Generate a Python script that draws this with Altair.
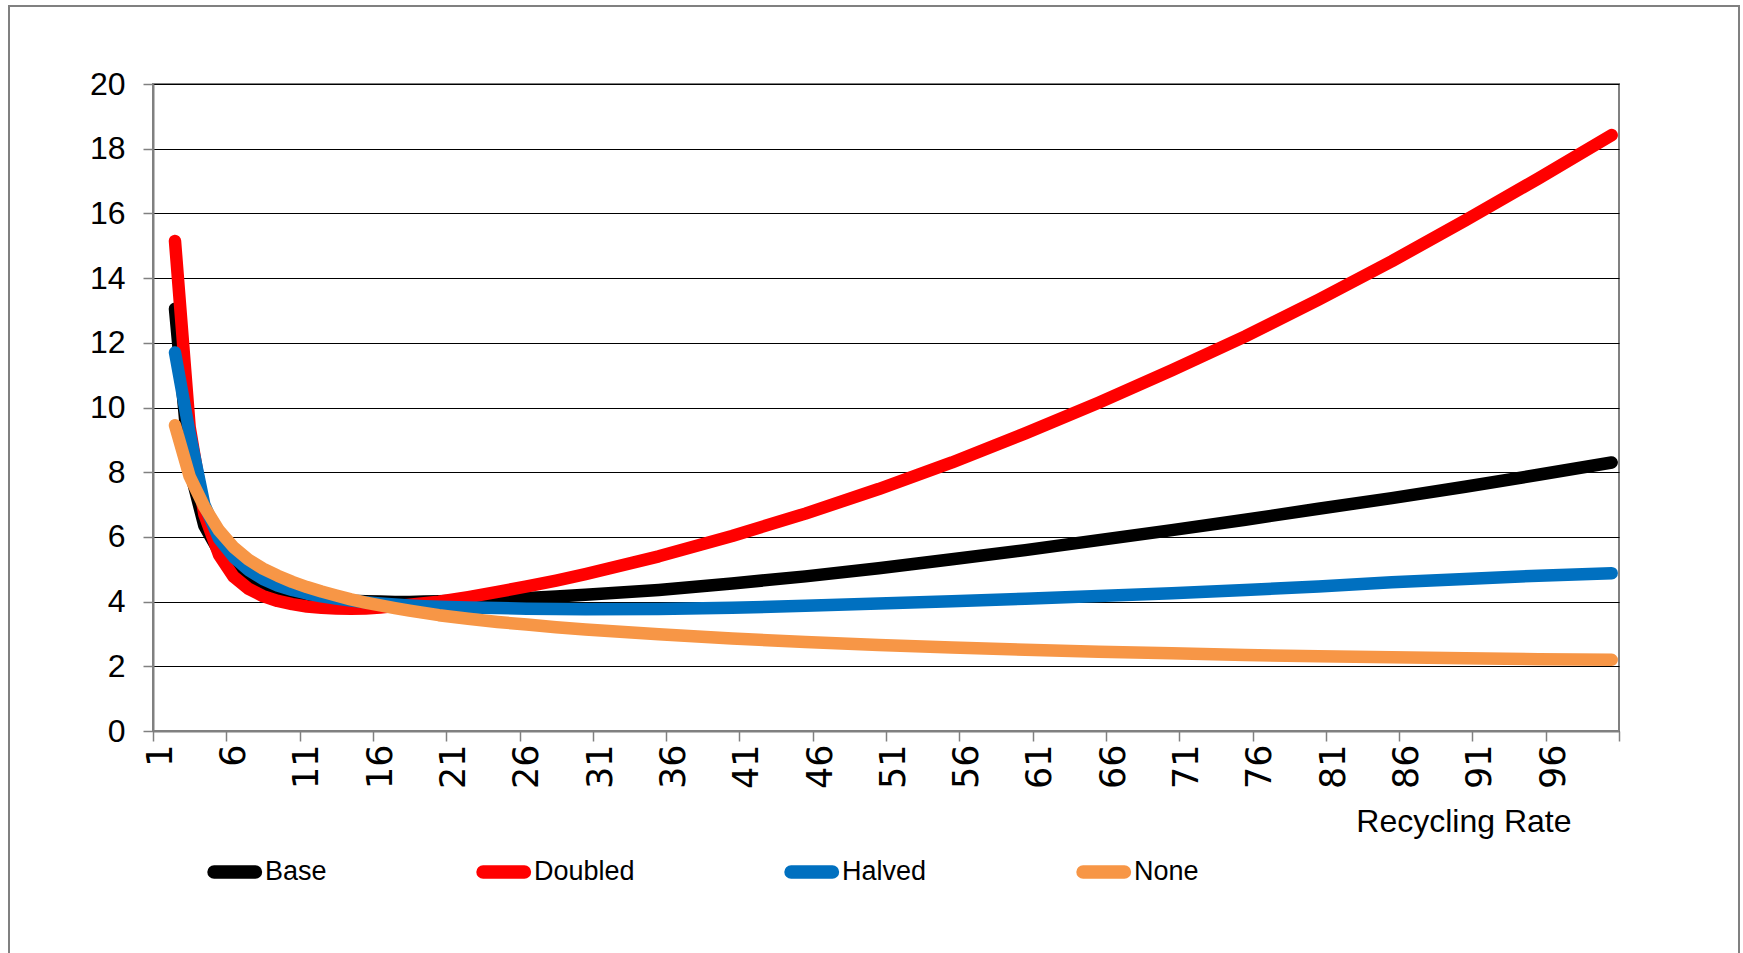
import altair as alt
import pandas as pd

# Recycling rate categories (1..100); the series start at 2
rate = [2, 3, 4, 5, 6, 7, 8, 9, 10, 11, 12, 13, 14, 15, 16, 17, 18, 19, 20,
        22, 24, 26, 28, 30, 35, 40, 45, 50, 55, 60, 65, 70, 75, 80, 85, 90, 95, 100]

base = [13.05, 8.1, 6.35, 5.55, 5.1, 4.78, 4.56, 4.4, 4.28, 4.19, 4.12, 4.07, 4.03, 4.01,
        4.0, 3.99, 3.99, 4.0, 4.01, 4.04, 4.07, 4.11, 4.16, 4.21, 4.36, 4.56, 4.78, 5.03,
        5.31, 5.59, 5.9, 6.21, 6.53, 6.87, 7.2, 7.55, 7.92, 8.3]

doubled = [15.15, 9.4, 6.7, 5.45, 4.77, 4.4, 4.17, 4.02, 3.92, 3.85, 3.81, 3.79, 3.78, 3.79,
           3.82, 3.86, 3.9, 3.95, 4.0, 4.14, 4.3, 4.47, 4.65, 4.85, 5.4, 6.03, 6.72, 7.48,
           8.3, 9.2, 10.15, 11.15, 12.2, 13.33, 14.52, 15.78, 17.08, 18.42]

halved = [11.7, 9.2, 7.0, 5.95, 5.38, 4.98, 4.7, 4.5, 4.36, 4.25, 4.16, 4.09, 4.03, 3.98,
          3.94, 3.91, 3.88, 3.86, 3.84, 3.82, 3.8, 3.78, 3.77, 3.76, 3.77, 3.81, 3.87, 3.94,
          4.01, 4.09, 4.17, 4.26, 4.36, 4.47, 4.6, 4.7, 4.8, 4.88]

none = [9.45, 7.87, 6.93, 6.2, 5.68, 5.3, 5.02, 4.8, 4.61, 4.45, 4.31, 4.19, 4.07, 3.97,
        3.88, 3.8, 3.72, 3.65, 3.58, 3.47, 3.37, 3.29, 3.21, 3.14, 2.99, 2.86, 2.75, 2.66,
        2.58, 2.51, 2.45, 2.4, 2.35, 2.31, 2.28, 2.25, 2.22, 2.2]

series_names = ["Base", "Doubled", "Halved", "None"]
series_colors = ["#000000", "#FF0000", "#0070C0", "#F79646"]
y_ticks = [0, 2, 4, 6, 8, 10, 12, 14, 16, 18, 20]

rows = []
for name, vals in zip(series_names, [base, doubled, halved, none]):
    for r, v in zip(rate, vals):
        rows.append({"rate": r, "value": v, "series": name})
df = pd.DataFrame(rows)

# category axis: ticks sit between categories, labels every 5th category
x_tick_values = [0.5 + 5 * i for i in range(21)]

AXIS_GREY = "#808080"
LINE_WIDTH = 12.5

# thin capsule outline (nudged right, towards its label); stroked, it gives
# a legend swatch with rounded ends
CAPSULE = ("M -0.645 -0.02 L 0.885 -0.02 A 0.02 0.02 0 0 1 0.885 0.02 "
           "L -0.645 0.02 A 0.02 0.02 0 0 1 -0.645 -0.02 Z")

lines = alt.Chart(df).mark_line(
    strokeWidth=LINE_WIDTH, strokeCap="round", strokeJoin="round"
).encode(
    x=alt.X(
        "rate:Q",
        scale=alt.Scale(domain=[0.5, 100.5], nice=False, zero=False),
        axis=alt.Axis(
            values=x_tick_values,
            labelExpr="datum.value > 100 ? '' : '' + (datum.value + 0.5)",
            labelAngle=270,
            labelAlign="right",
            labelBaseline="middle",
            labelOffset=7.3,
            labelPadding=3,
            labelFont="DejaVu Sans",
            labelFontSize=35,
            labelColor="#000000",
            labelFlush=False,
            labelOverlap=False,
            tickSize=10,
            tickColor=AXIS_GREY,
            tickWidth=1.5,
            domainColor=AXIS_GREY,
            domainWidth=2,
            grid=False,
            title="Recycling Rate",
            titleFont="Liberation Sans",
            titleFontSize=32,
            titleFontWeight="normal",
            titleColor="#000000",
            titleAlign="right",
            titleBaseline="alphabetic",
            titleX=1418,
            titleY=100,
        ),
    ),
    y=alt.Y(
        "value:Q",
        scale=alt.Scale(domain=[0, 20], nice=False),
        axis=alt.Axis(
            values=y_ticks,
            labelFont="Liberation Sans",
            labelFontSize=32,
            labelColor="#000000",
            labelPadding=18,
            tickSize=10,
            tickColor=AXIS_GREY,
            tickWidth=1.5,
            domainColor=AXIS_GREY,
            domainWidth=2,
            grid=True,
            gridColor="#000000",
            gridWidth=1.2,
            title=None,
        ),
    ),
    color=alt.Color(
        "series:N",
        scale=alt.Scale(domain=series_names, range=series_colors),
        legend=alt.Legend(
            title=None,
            orient="none",
            legendX=45,
            legendY=754,
            direction="horizontal",
            symbolType=CAPSULE,
            symbolStrokeWidth=LINE_WIDTH,
            symbolSize=2916,
            labelFont="Liberation Sans",
            labelFontSize=27,
            labelColor="#000000",
            labelOffset=0,
            columnPadding=130,
        ),
    ),
)

# outer chart frame
frame = alt.Chart(pd.DataFrame({"frame": [0]})).mark_rect(
    filled=False, stroke=AXIS_GREY, strokeWidth=2
).encode(
    x=alt.value(-144), x2=alt.value(1586), y=alt.value(-78), y2=alt.value(940)
)

chart = alt.layer(frame, lines).properties(
    width=1466,
    height=647,
    padding={"left": 153, "top": 84, "right": 124, "bottom": 222},
    autosize=alt.AutoSizeParams(type="none"),
    background="#ffffff",
).configure_view(stroke=AXIS_GREY, strokeWidth=2)

chart.save("out.html", embed_options={"renderer": "svg", "actions": False})
